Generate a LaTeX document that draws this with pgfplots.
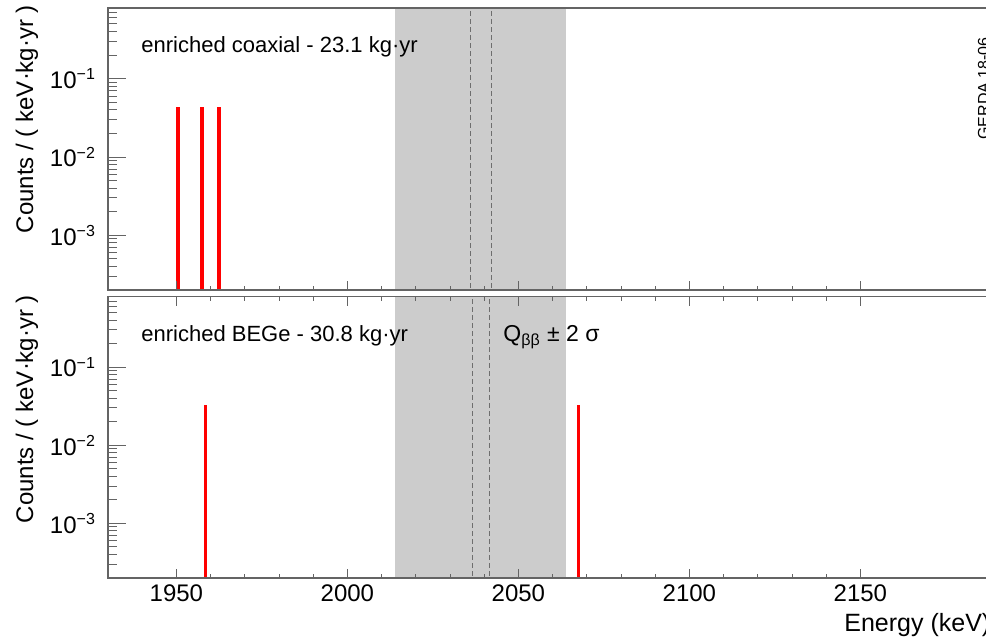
\documentclass[border=0pt]{standalone}
\usepackage{pgfplots}
\pgfplotsset{compat=1.18}
\usepackage{fontspec}
\setmainfont{Liberation Sans}

\definecolor{bandgray}{RGB}{204,204,204}
\definecolor{framegray}{RGB}{100,100,100}
\definecolor{qline}{RGB}{110,110,110}

\tikzset{qbb/.style={qline, line width=0.5pt, dash pattern=on 2.5pt off 1.5pt}}

\begin{document}
\begin{tikzpicture}
% enriched coaxial
\begin{axis}[at={(54pt,-4pt)}, anchor=north west,
    scale only axis, width=444.6pt, height=141pt,
    xmin=1930, xmax=2190,
    ymode=log, ymin=2e-4, ymax=0.8,
    xtick={1950,2000,...,2150}, minor x tick num=4,
    ytick={1e-3,1e-2,1e-1},
    minor ytick={3e-4,4e-4,5e-4,6e-4,7e-4,8e-4,9e-4,2e-3,3e-3,4e-3,5e-3,6e-3,7e-3,8e-3,9e-3,2e-2,3e-2,4e-2,5e-2,6e-2,7e-2,8e-2,9e-2,2e-1,3e-1,4e-1,5e-1,6e-1,7e-1},
    yticklabels={10\textsuperscript{−3},10\textsuperscript{−2},10\textsuperscript{−1}},
    ytick pos=left, xtick pos=bottom, xticklabels={},
    tick align=inside, axis on top,
    axis line style={framegray, line width=0.6pt},
    tick style={framegray, line width=0.5pt},
    major tick length=9pt, minor tick length=4.5pt,
    x tick style={/pgfplots/major tick length=4.5pt, /pgfplots/minor tick length=2pt},
    tick label style={font=\fontsize{12pt}{14pt}\selectfont},
    yticklabel style={xshift=-2.5pt}]
\addplot[fill=bandgray, draw=none] coordinates {(2014,1e-5) (2064,1e-5) (2064,10) (2014,10)} -- cycle;
\addplot[qbb] coordinates {(2036,1e-5) (2036,10)};
\addplot[qbb] coordinates {(2042,1e-5) (2042,10)};
\addplot[fill=red, draw=none] coordinates {(1950,1e-6) (1950,0.0433) (1951,0.0433) (1951,1e-6)} -- cycle;
\addplot[fill=red, draw=none] coordinates {(1957,1e-6) (1957,0.0433) (1958,0.0433) (1958,1e-6)} -- cycle;
\addplot[fill=red, draw=none] coordinates {(1962,1e-6) (1962,0.0433) (1963,0.0433) (1963,1e-6)} -- cycle;
\end{axis}
% enriched BEGe
\begin{axis}[at={(54pt,-148.25pt)}, anchor=north west,
    scale only axis, width=444.6pt, height=140.75pt,
    xmin=1930, xmax=2190,
    ymode=log, ymin=2e-4, ymax=0.8,
    xtick={1950,2000,...,2150}, minor x tick num=4,
    ytick={1e-3,1e-2,1e-1},
    minor ytick={3e-4,4e-4,5e-4,6e-4,7e-4,8e-4,9e-4,2e-3,3e-3,4e-3,5e-3,6e-3,7e-3,8e-3,9e-3,2e-2,3e-2,4e-2,5e-2,6e-2,7e-2,8e-2,9e-2,2e-1,3e-1,4e-1,5e-1,6e-1,7e-1},
    yticklabels={10\textsuperscript{−3},10\textsuperscript{−2},10\textsuperscript{−1}},
    xticklabels={1950,2000,2050,2100,2150},
    ytick pos=left, xtick pos=both,
    tick align=inside, axis on top,
    axis line style={framegray, line width=0.6pt},
    tick style={framegray, line width=0.5pt},
    major tick length=9pt, minor tick length=4.5pt,
    x tick style={/pgfplots/major tick length=4.5pt, /pgfplots/minor tick length=2pt},
    tick label style={font=\fontsize{12pt}{14pt}\selectfont},
    yticklabel style={xshift=-2.5pt}]
\addplot[fill=bandgray, draw=none] coordinates {(2014,1e-5) (2064,1e-5) (2064,10) (2014,10)} -- cycle;
\addplot[qbb] coordinates {(2036.5,1e-5) (2036.5,10)};
\addplot[qbb] coordinates {(2041.5,1e-5) (2041.5,10)};
\addplot[fill=red, draw=none] coordinates {(1958,1e-6) (1958,0.0325) (1959,0.0325) (1959,1e-6)} -- cycle;
\addplot[fill=red, draw=none] coordinates {(2067,1e-6) (2067,0.0325) (2068,0.0325) (2068,1e-6)} -- cycle;
\end{axis}

\node[rotate=90, anchor=base, inner sep=0, font=\fontsize{12pt}{14pt}\selectfont]
  at (16.5pt,-59.5pt) {Counts / ( keV·kg·yr )};
\node[rotate=90, anchor=base, inner sep=0, font=\fontsize{12pt}{14pt}\selectfont]
  at (16.5pt,-204.5pt) {Counts / ( keV·kg·yr )};
\node[anchor=base west, inner sep=0, font=\fontsize{11pt}{13pt}\selectfont]
  at (70.5pt,-26pt) {enriched coaxial - 23.1 kg·yr};
\node[anchor=base west, inner sep=0, font=\fontsize{11pt}{13pt}\selectfont]
  at (70.5pt,-170.8pt) {enriched BEGe - 30.8 kg·yr};
\node[anchor=base west, inner sep=0, font=\fontsize{11.5pt}{13pt}\selectfont]
  at (251.5pt,-170.8pt) {Q\textsubscript{ββ} ± 2 σ};
\node[anchor=base west, inner sep=0, font=\fontsize{12.5pt}{14pt}\selectfont]
  at (422pt,-315.5pt) {Energy (keV)};
\node[rotate=90, anchor=base west, inner sep=0, font=\fontsize{8pt}{10pt}\selectfont]
  at (494.5pt,-70pt) {GERDA 18-06};

\pgfresetboundingbox
\useasboundingbox (0,0) rectangle (493pt,-319.5pt);
\end{tikzpicture}
\end{document}
